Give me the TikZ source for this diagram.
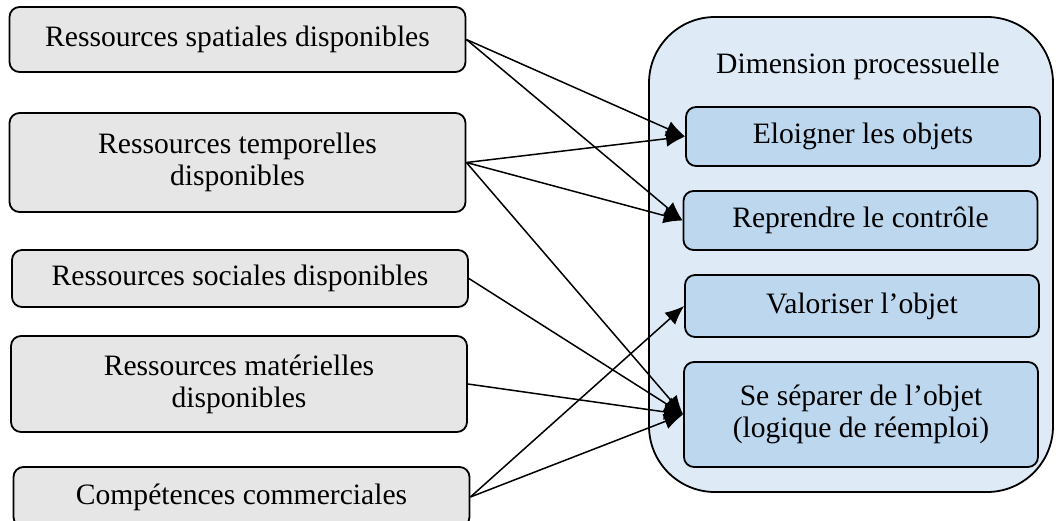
\documentclass[tikz,border=0pt]{standalone}
\usepackage{fontspec}
\setmainfont{Liberation Serif}
\usetikzlibrary{arrows.meta}
\definecolor{grisres}{RGB}{231,230,230}
\definecolor{bleufond}{RGB}{222,235,247}
\definecolor{bleuact}{RGB}{189,215,238}
\begin{document}
\begin{tikzpicture}[x=0.5pt,y=-0.5pt,
  txt/.style={font=\fontsize{14.8}{16}\selectfont,align=center,inner sep=0pt},
  res/.style={txt,draw=black,fill=grisres,rounded corners=5pt,line width=0.9pt,minimum width=228pt},
  act/.style={txt,draw=black,fill=bleuact,rounded corners=5pt,line width=0.9pt,minimum width=177pt},
  arr/.style={-{Latex[length=9.5pt,width=8pt]},line width=0.75pt}]
\useasboundingbox (0,0) rectangle (1056,520);
\node[res,minimum height=32.5pt] (spatial) at (237.5,39.5) {Ressources spatiales disponibles};
\node[res,minimum height=49.5pt] (temporel) at (237.5,162.5) {Ressources temporelles\\disponibles};
\node[res,minimum height=28.5pt] (social) at (240,278.5) {Ressources sociales disponibles};
\node[res,minimum height=48pt] (materiel) at (239,384) {Ressources matérielles\\disponibles};
\node[res,minimum height=30pt] (commercial) at (241.5,497) {Compétences commerciales};
\node[draw=black,fill=bleufond,rounded corners=33pt,line width=0.9pt,minimum width=202pt,minimum height=237.5pt] (processus) at (851,254.5) {};
\node[txt] (titre) at (858,66) {Dimension processuelle};
\node[act,minimum height=29.5pt] (eloigner) at (863,136.5) {Eloigner les objets};
\node[act,minimum height=29.5pt] (reprendre) at (860.5,220.5) {Reprendre le contrôle};
\node[act,minimum height=31pt] (valoriser) at (862,306) {Valoriser l’objet};
\node[act,minimum height=52.5pt] (separer) at (861,414.5) {Se séparer de l’objet\\(logique de réemploi)};
\draw[arr] (spatial.east) -- (eloigner.west);
\draw[arr] (spatial.east) -- (reprendre.west);
\draw[arr] (temporel.east) -- (eloigner.west);
\draw[arr] (temporel.east) -- (reprendre.west);
\draw[arr] (temporel.east) -- (separer.west);
\draw[arr] (social.east) -- (separer.west);
\draw[arr] (materiel.east) -- (separer.west);
\draw[arr] (commercial.east) -- (valoriser.west);
\draw[arr] (commercial.east) -- (separer.west);
\end{tikzpicture}
\end{document}
